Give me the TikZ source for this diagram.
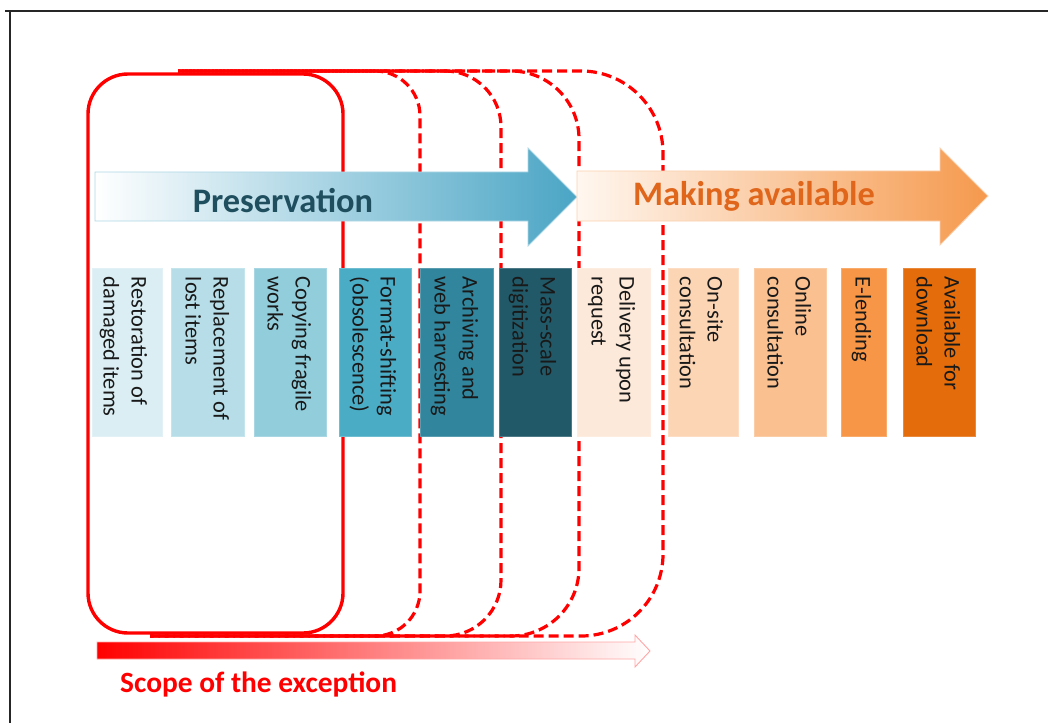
\documentclass[tikz,border=0pt]{standalone}
\usepackage{fontspec}
\setmainfont{Carlito}
\definecolor{c1}{HTML}{DAEEF3}
\definecolor{c2}{HTML}{B7DEE8}
\definecolor{c3}{HTML}{92CDDC}
\definecolor{c4}{HTML}{4BACC6}
\definecolor{c5}{HTML}{31859C}
\definecolor{c6}{HTML}{215968}
\definecolor{c7}{HTML}{FDE9D9}
\definecolor{c8}{HTML}{FCD5B5}
\definecolor{c9}{HTML}{FAC090}
\definecolor{c10}{HTML}{F79646}
\definecolor{c11}{HTML}{E46C0A}
\definecolor{pres}{HTML}{4AA5C5}
\definecolor{presTxt}{HTML}{1F4E5E}
\definecolor{make}{HTML}{F5994D}
\definecolor{makeLeft}{HTML}{FFF7F0}
\definecolor{makeTxt}{HTML}{E0661C}
\definecolor{scopeRed}{HTML}{FF0000}
\begin{document}
\begin{tikzpicture}[x=1bp,y=-1bp,
  bx/.style={rectangle, fill=#1, draw=#1!80!white, line width=0.6bp, inner sep=0, minimum height=168bp},
  lbl/.style={rotate=-90, anchor=north west, align=left, inner sep=0, text=black!90,
              font=\fontsize{22.5}{28}\selectfont},
  redsolid/.style={draw=scopeRed, line width=3.4bp},
  reddash/.style={draw=scopeRed, line width=3.2bp, dash pattern=on 10bp off 5bp},
  frameline/.style={draw=black!85, line width=1.6bp},
  bigtitle/.style={font=\fontsize{34.5}{40}\selectfont\bfseries, inner sep=0}
]
\useasboundingbox (0,0) rectangle (1048,723);
% frame
\draw[frameline] (5,11) -- (1048,11);
\draw[frameline] (10,11) -- (10,723);

% red scope outlines
\draw[reddash, dash phase=0bp, rounded corners=45bp] (178,71) -- (420,71) -- (420,636) -- (150,636);
\draw[reddash, dash phase=4bp, rounded corners=56bp] (178,71) -- (501,71) -- (501,636) -- (150,636);
\draw[reddash, dash phase=8bp, rounded corners=68bp] (178,71) -- (579,71) -- (579,636) -- (150,636);
\draw[reddash, dash phase=11bp, rounded corners=82bp] (178,71) -- (663,71) -- (663,636) -- (150,636);
\draw[redsolid, rounded corners=40bp] (88,74) rectangle (343,633);

% big arrows
\shade[left color=white, right color=pres, draw=pres!45, line width=0.8bp]
  (95,172) -- (528,172) -- (528,148) -- (577,197) -- (528,246) -- (528,221) -- (95,221) -- cycle;
\shade[left color=makeLeft, right color=make, draw=make!45, line width=0.8bp]
  (577,171) -- (940,171) -- (940,148) -- (988,196) -- (940,245) -- (940,221) -- (577,221) -- cycle;
\node[bigtitle, text=presTxt, anchor=base] (tpres) at (283,212) {Preservation};
\node[bigtitle, text=makeTxt, anchor=base] (tmake) at (754,206) {Making available};

% boxes
\node[bx=c1, minimum width=70bp] (b1) at (127,352) {};
\node[bx=c2, minimum width=73bp] (b2) at (207.5,352) {};
\node[bx=c3, minimum width=72bp] (b3) at (290,352) {};
\node[bx=c4, minimum width=72bp] (b4) at (375,352) {};
\node[bx=c5, minimum width=73bp] (b5) at (456.5,352) {};
\node[bx=c6, minimum width=72bp] (b6) at (535,352) {};
\node[bx=c7, minimum width=73bp] (b7) at (613.5,352) {};
\node[bx=c8, minimum width=70bp] (b8) at (703,352) {};
\node[bx=c9, minimum width=72bp] (b9) at (790,352) {};
\node[bx=c10, minimum width=45bp] (b10) at (863.5,352) {};
\node[bx=c11, minimum width=72bp] (b11) at (939,352) {};

\path (b1.north east) ++(-15,9) node[lbl] (t1) {Restoration of\\damaged items};
\path (b2.north east) ++(-15,9) node[lbl] (t2) {Replacement of\\lost items};
\path (b3.north east) ++(-15,9) node[lbl] (t3) {Copying fragile\\works};
\path (b4.north east) ++(-15,9) node[lbl] (t4) {Format-shifting\\(obsolescence)};
\path (b5.north east) ++(-15,9) node[lbl] (t5) {Archiving and\\web harvesting};
\path (b6.north east) ++(-15,9) node[lbl] (t6) {Mass-scale\\digitization};
\path (b7.north east) ++(-15,9) node[lbl] (t7) {Delivery upon\\request};
\path (b8.north east) ++(-15,9) node[lbl] (t8) {On-site\\consultation};
\path (b9.north east) ++(-15,9) node[lbl] (t9) {Online\\consultation};
\path (b10.north east) ++(-15,9) node[lbl] (t10) {E-lending};
\path (b11.north east) ++(-15,9) node[lbl] (t11) {Available for\\download};

% scope arrow
\shade[left color=scopeRed, right color=white, draw=scopeRed!35, line width=0.9bp]
  (97,642) -- (635,642) -- (635,635) -- (650,651) -- (635,667) -- (635,659) -- (97,659) -- cycle;
\node[font=\fontsize{29.5}{34}\selectfont\bfseries, text=scopeRed, anchor=base west, inner sep=0] (tscope) at (120,692) {Scope of the exception};
\end{tikzpicture}
\end{document}
